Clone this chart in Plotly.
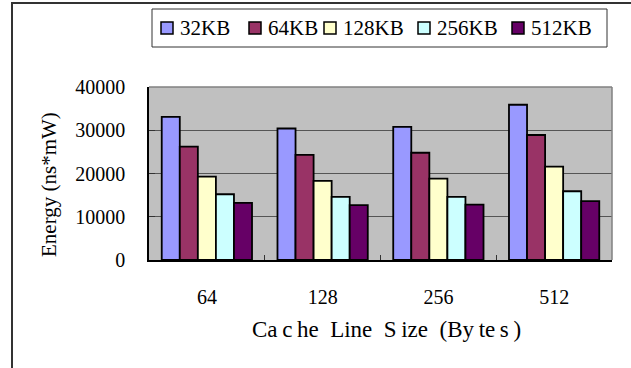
import plotly.graph_objects as go

# Cache line sizes (bytes) on the x axis
line_sizes = ["64", "128", "256", "512"]

# Energy (ns*mW) per cache capacity
cache_32kb = [33100, 30400, 30800, 35900]
cache_64kb = [26200, 24300, 24800, 28900]
cache_128kb = [19300, 18300, 18800, 21600]
cache_256kb = [15200, 14600, 14600, 15900]
cache_512kb = [13200, 12700, 12800, 13600]

series_names = ["32KB", "64KB", "128KB", "256KB", "512KB"]
series_values = [cache_32kb, cache_64kb, cache_128kb, cache_256kb, cache_512kb]
series_colors = ["#9999FF", "#993366", "#FFFFCC", "#CCFFFF", "#660066"]

y_ticks = [0, 10000, 20000, 30000, 40000]

FONT = "'Times New Roman', 'Liberation Serif', serif"
TS = "\u2009"  # thin space used in the x-axis title

fig = go.Figure()
for name, vals, col in zip(series_names, series_values, series_colors):
    fig.add_trace(go.Bar(
        x=line_sizes, y=vals, name=name, showlegend=False,
        marker=dict(color=col, line=dict(color="black", width=1.8)),
    ))

W, H = 631, 368
L, R, T, B = 149, 19, 87, 108
pw, ph = W - L - R, H - T - B


def px_x(x):
    return (x - L) / pw


def px_y(y):
    return (H - B - y) / ph


x_title = f"Ca{TS}c{TS}he  Line  S{TS}ize  (By{TS}te{TS}s{TS})"

annotations = [
    dict(text=x_title, xref="paper", yref="paper",
         x=px_x(386), y=px_y(329), showarrow=False,
         font=dict(family=FONT, size=23), xanchor="center", yanchor="middle"),
    dict(text="Energy (ns*mW)", xref="paper", yref="paper",
         x=px_x(49), y=px_y(185), showarrow=False, textangle=-90,
         font=dict(family=FONT, size=21), xanchor="center", yanchor="middle"),
]

shapes = [
    # outer chart border
    dict(type="rect", xref="paper", yref="paper",
         x0=px_x(12), x1=px_x(645), y0=px_y(3), y1=px_y(380),
         line=dict(color="#333333", width=2), layer="below"),
    # gray frame on the top and right of the plot area
    dict(type="line", xref="paper", yref="paper", x0=0, x1=1, y0=1, y1=1,
         line=dict(color="#808080", width=1.5)),
    dict(type="line", xref="paper", yref="paper", x0=1, x1=1, y0=0, y1=1,
         line=dict(color="#808080", width=1.5)),
    # legend box
    dict(type="rect", xref="paper", yref="paper",
         x0=px_x(152), x1=px_x(607), y0=px_y(9), y1=px_y(47),
         fillcolor="white", line=dict(color="#333333", width=1)),
]

# legend entries: swatch + label, laid out in one row
swatch_left = [161, 249, 324, 418, 512]
for name, col, sx in zip(series_names, series_colors, swatch_left):
    shapes.append(dict(type="rect", xref="paper", yref="paper",
                       x0=px_x(sx), x1=px_x(sx + 12), y0=px_y(22), y1=px_y(34),
                       fillcolor=col, line=dict(color="black", width=1.5)))
    annotations.append(dict(text=name, xref="paper", yref="paper",
                            x=px_x(sx + 17), y=px_y(28.5), showarrow=False,
                            xanchor="left", yanchor="middle",
                            font=dict(family=FONT, size=21)))

fig.update_layout(
    width=W, height=H,
    margin=dict(l=L, r=R, t=T, b=B),
    paper_bgcolor="white",
    plot_bgcolor="#C0C0C0",
    barmode="group",
    bargap=0.22,
    bargroupgap=0,
    font=dict(family=FONT, color="black", size=20),
    showlegend=False,
    xaxis=dict(
        type="category",
        showline=True, linecolor="black", linewidth=1.5,
        ticks="inside", tickson="boundaries", ticklen=5, tickcolor="#333333",
        showgrid=False,
        ticklabelstandoff=18,
        tickfont=dict(family=FONT, size=20),
    ),
    yaxis=dict(
        range=[0, 40000],
        tickvals=y_ticks,
        ticktext=[str(v) for v in y_ticks],
        showline=True, linecolor="black", linewidth=1.5,
        ticks="inside", ticklen=6, tickcolor="#333333",
        showgrid=True, gridcolor="#555555", gridwidth=1,
        zeroline=False,
        ticklabelstandoff=18,
        tickfont=dict(family=FONT, size=20),
    ),
    annotations=annotations,
    shapes=shapes,
)

fig.write_html("out.html")
